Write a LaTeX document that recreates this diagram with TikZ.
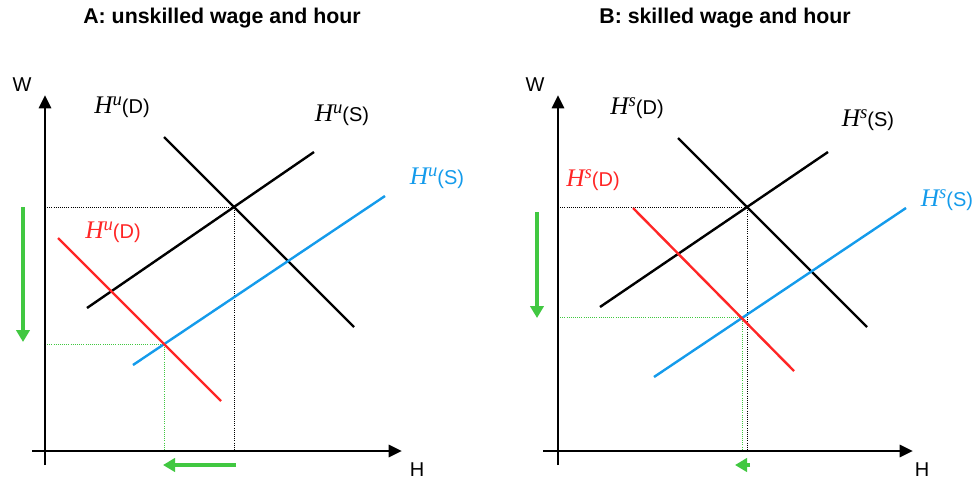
\documentclass[tikz,border=0pt]{standalone}
\usepackage{fontspec}
\setmainfont{Liberation Sans}
\newfontfamily\timesfam{Liberation Serif}
\usetikzlibrary{arrows.meta}

\definecolor{supblue}{RGB}{20,155,235}
\definecolor{demred}{RGB}{255,38,38}
\definecolor{shiftgreen}{RGB}{65,200,65}

% curve label: big italic H with superscript, then the sans part
\newcommand{\Hlab}[2]{{\timesfam\itshape\fontsize{19}{20}\selectfont H\raisebox{6pt}{\fontsize{14}{14}\selectfont #1}}(#2)}

\begin{document}
\begin{tikzpicture}[x=0.75pt, y=-0.75pt, font=\fontsize{15}{17}\selectfont,
    axis/.style={line width=2.2pt, -{Triangle[length=10pt,width=9pt]}},
    curve/.style={line width=1.8pt},
    guide/.style={densely dotted, line width=0.6pt},
    shiftarrow/.style={line width=2.4pt, shiftgreen, -{Triangle[length=9pt,width=10pt]}},
    paneltitle/.style={font=\fontsize{16}{18}\selectfont\bfseries}]
  \useasboundingbox (0,0) rectangle (979,483);

  % ---- panel A: unskilled
  \node[paneltitle] (tA) at (222,18) {A: unskilled wage and hour};
  \coordinate (aW0) at (45,465); \coordinate (aW1) at (45,95);
  \coordinate (aH0) at (32,451); \coordinate (aH1) at (402,451);
  \coordinate (aD0) at (164,137); \coordinate (aD1) at (354,327);
  \coordinate (aS0) at (87,308);  \coordinate (aS1) at (314,152);
  \coordinate (aS2) at (133,365); \coordinate (aS3) at (385,196);
  \coordinate (aD2) at (58,238);  \coordinate (aD3) at (221,401);
  \coordinate (aE) at (234,207);  \coordinate (aF) at (164,344);
  \coordinate (aEw) at (45,207);  \coordinate (aEh) at (234,451);
  \coordinate (aFw) at (45,344);  \coordinate (aFh) at (164,451);
  \draw[guide] (aEw) -- (aE) -- (aEh);
  \draw[guide, shiftgreen] (aFw) -- (aF) -- (aFh);
  \draw[axis] (aW0) -- (aW1);
  \draw[axis] (aH0) -- (aH1);
  \draw[curve] (aD0) -- (aD1);
  \draw[curve] (aS0) -- (aS1);
  \draw[curve, supblue] (aS2) -- (aS3);
  \draw[curve, demred] (aD2) -- (aD3);
  \node (aWl) at (22,85) {W};
  \node (aHl) at (417,470) {H};
  \node (aDl) at (122,107) {\Hlab{u}{D}};
  \node (aSl) at (342,115) {\Hlab{u}{S}};
  \node[supblue] (aS2l) at (437,178) {\Hlab{u}{S}};
  \node[demred] (aD2l) at (113,232) {\Hlab{u}{D}};
  \coordinate (aV0) at (23,207); \coordinate (aV1) at (23,342);
  \coordinate (aQ0) at (236,465); \coordinate (aQ1) at (163,465);
  \draw[shiftarrow] (aV0) -- (aV1);
  \draw[shiftarrow] (aQ0) -- (aQ1);

  % ---- panel B: skilled
  \node[paneltitle] (tB) at (725,18) {B: skilled wage and hour};
  \coordinate (bW0) at (558,465); \coordinate (bW1) at (558,95);
  \coordinate (bH0) at (543,451); \coordinate (bH1) at (913,451);
  \coordinate (bD0) at (678,138); \coordinate (bD1) at (867,327);
  \coordinate (bS0) at (600,307); \coordinate (bS1) at (828,152);
  \coordinate (bS2) at (654,377); \coordinate (bS3) at (906,208);
  \coordinate (bD2) at (633,208); \coordinate (bD3) at (794,371);
  \coordinate (bE) at (747,207);  \coordinate (bF) at (742,317);
  \coordinate (bEw) at (558,207); \coordinate (bEh) at (747,451);
  \coordinate (bFw) at (558,317); \coordinate (bFh) at (742,451);
  \draw[guide] (bEw) -- (bE) -- (bEh);
  \draw[guide, shiftgreen] (bFw) -- (bF) -- (bFh);
  \draw[axis] (bW0) -- (bW1);
  \draw[axis] (bH0) -- (bH1);
  \draw[curve] (bD0) -- (bD1);
  \draw[curve] (bS0) -- (bS1);
  \draw[curve, supblue] (bS2) -- (bS3);
  \draw[curve, demred] (bD2) -- (bD3);
  \node (bWl) at (535,85) {W};
  \node (bHl) at (922,470) {H};
  \node (bDl) at (637,108) {\Hlab{s}{D}};
  \node (bSl) at (868,120) {\Hlab{s}{S}};
  \node[supblue] (bS2l) at (947,200) {\Hlab{s}{S}};
  \node[demred] (bD2l) at (593,180) {\Hlab{s}{D}};
  \coordinate (bV0) at (537,212); \coordinate (bV1) at (537,318);
  \coordinate (bQ0) at (750,465); \coordinate (bQ1) at (735,465);
  \draw[shiftarrow] (bV0) -- (bV1);
  \draw[shiftarrow] (bQ0) -- (bQ1);
\end{tikzpicture}
\end{document}
